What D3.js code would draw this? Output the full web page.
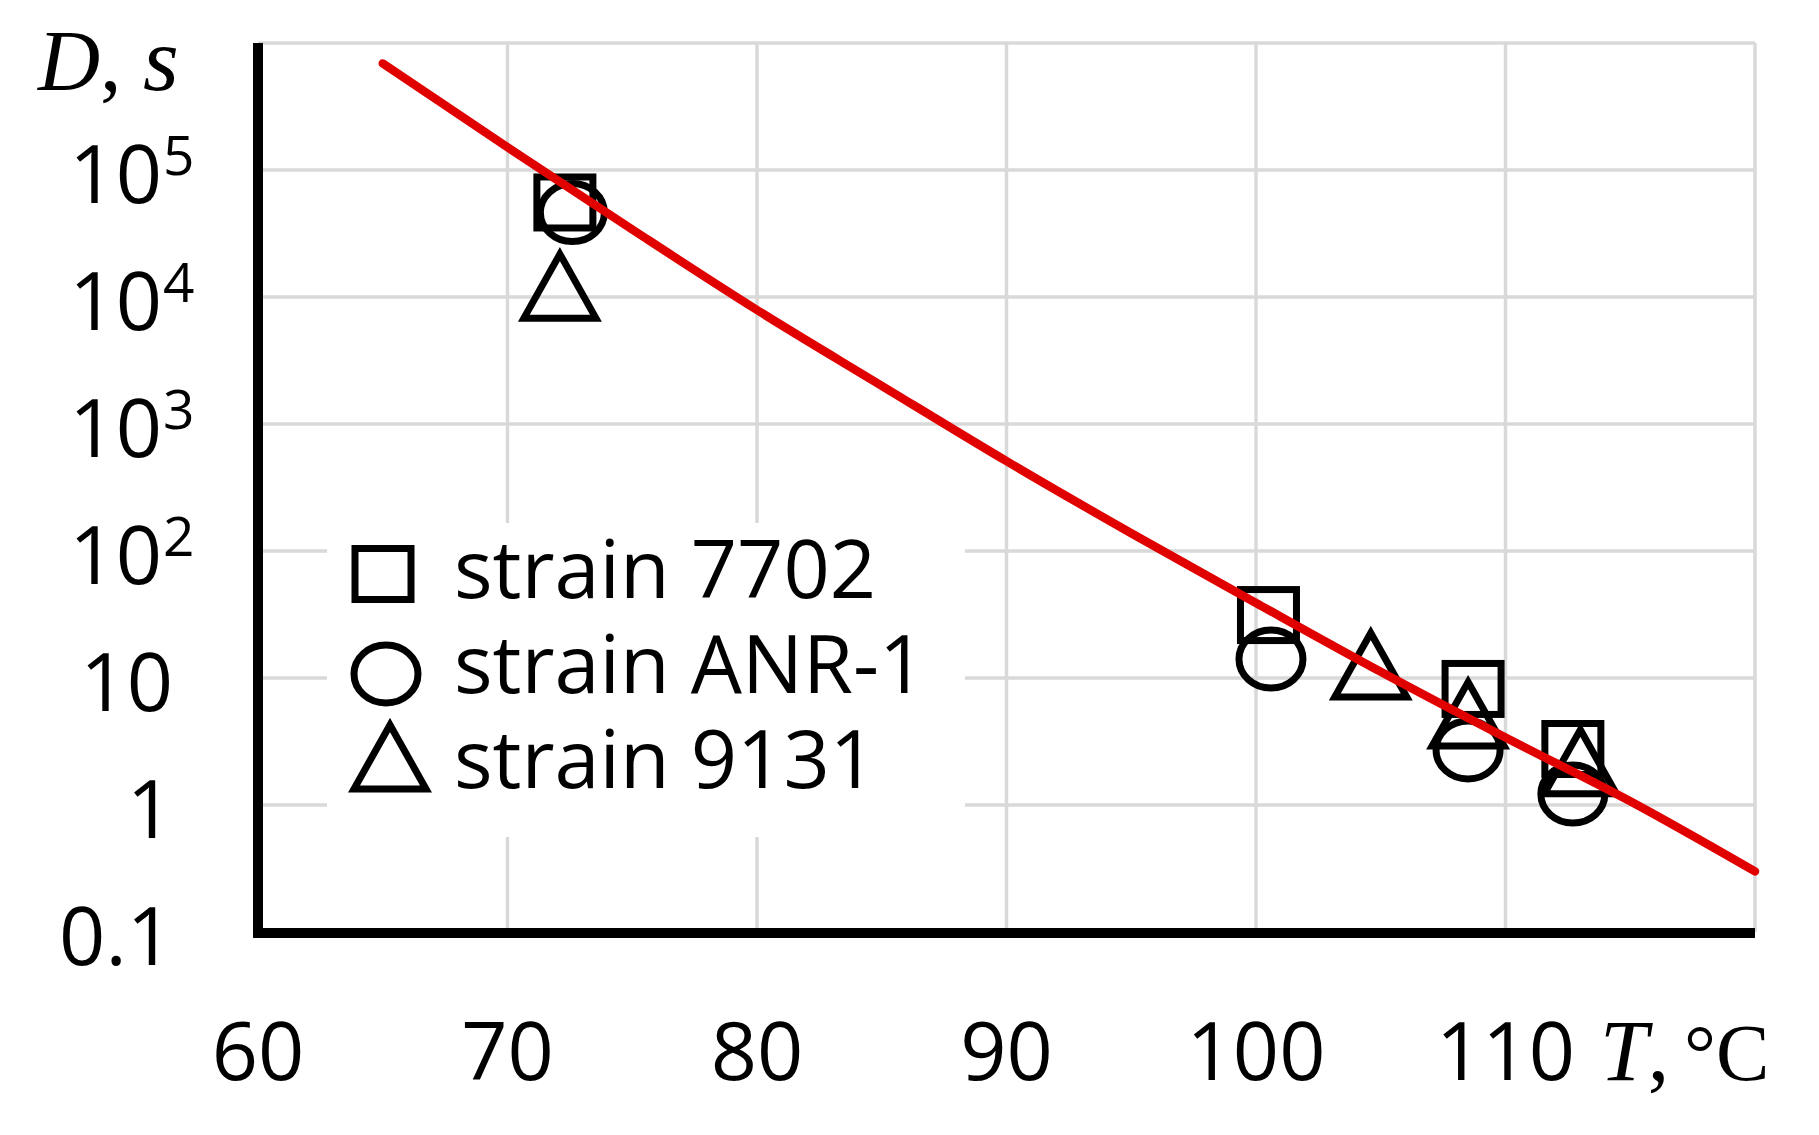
<!DOCTYPE html>
<html>
<head>
<meta charset="utf-8">
<title>D-value vs temperature</title>
<script src="https://cdnjs.cloudflare.com/ajax/libs/d3/7.8.5/d3.min.js"></script>
<style>
  body { margin: 0; background: #fff; }
  .lbl { font-family: "Open Sans", sans-serif; font-size: 81px; fill: #000; }
  .math { font-family: "Liberation Serif", serif; font-size: 86px; fill: #000; }
</style>
</head>
<body>
<div id="chart"></div>
<script>
// model curve
var lineT = [65, 70, 75, 80, 85, 90, 95, 100, 105, 110, 115, 120];
var lineD = [690000, 151000, 34000, 7900, 2000, 510, 138, 39, 11.2, 3.4, 1.07, 0.30];

// measured points per strain
var strainNames = ['strain 7702', 'strain ANR-1', 'strain 9131'];
var s7702T = [72.3, 100.5, 108.7, 112.7];
var s7702D = [55500, 31.3, 8.2, 2.76];
var sAnrT = [72.6, 100.6, 108.5, 112.7];
var sAnrD = [46200, 14.1, 2.71, 1.22];
var s9131T = [72.1, 104.6, 108.5, 113.0];
var s9131D = [12400, 12.9, 5.3, 2.23];

var xGrid = [70, 80, 90, 100, 110, 120];
var xLabels = [60, 70, 80, 90, 100, 110];
var yGrid = [1, 10, 100, 1e3, 1e4, 1e5, 1e6];
var yTicks = [0.1, 1, 10, 100, 1e3, 1e4, 1e5];
var yBase = ['0.1', '1', '10', '10', '10', '10', '10'];
var yExp = ['', '', '', '2', '3', '4', '5'];

var W = 1819, H = 1135;
var x = d3.scaleLinear().domain([60, 120]).range([258, 1755]);
var y = d3.scaleLog().domain([0.1, 1e6]).range([932, 43]);

var svg = d3.select('#chart').append('svg').attr('width', W).attr('height', H);

// grid
svg.append('g').selectAll('line').data(xGrid).enter().append('line')
   .attr('x1', function(d){ return x(d); }).attr('x2', function(d){ return x(d); })
   .attr('y1', y(1e6)).attr('y2', y(0.1))
   .attr('stroke', '#d9d9d9').attr('stroke-width', 3.5);
svg.append('g').selectAll('line').data(yGrid).enter().append('line')
   .attr('y1', function(d){ return y(d); }).attr('y2', function(d){ return y(d); })
   .attr('x1', x(60)).attr('x2', x(120))
   .attr('stroke', '#d9d9d9').attr('stroke-width', 3.5);

// legend background hides the grid
svg.append('rect').attr('x', 327).attr('y', 523).attr('width', 638).attr('height', 314).attr('fill', '#fff');

// axes
svg.append('line').attr('x1', x(60)).attr('x2', x(60)).attr('y1', y(1e6)).attr('y2', y(0.1) + 6)
   .attr('stroke', '#000').attr('stroke-width', 10);
svg.append('line').attr('x1', x(60) - 5).attr('x2', x(120)).attr('y1', y(0.1) + 1).attr('y2', y(0.1) + 1)
   .attr('stroke', '#000').attr('stroke-width', 10);

// tick labels
svg.append('g').selectAll('text').data(xLabels).enter().append('text').attr('class', 'lbl')
   .attr('x', function(d){ return x(d); }).attr('y', 1080).attr('text-anchor', 'middle')
   .text(function(d){ return d; });

yTicks.forEach(function(d, i){
  var base = y(d) + 33;
  if (yExp[i]) {
    svg.append('text').attr('class', 'lbl').attr('x', 162).attr('y', base)
       .attr('text-anchor', 'end').text(yBase[i]);
    svg.append('text').attr('class', 'lbl').attr('x', 163).attr('y', base - 28)
       .style('font-size', '55px').text(yExp[i]);
  } else {
    svg.append('text').attr('class', 'lbl').attr('x', 173).attr('y', base)
       .attr('text-anchor', 'end').text(yBase[i]);
  }
});

// axis titles
var yt = svg.append('text').attr('class', 'math').attr('x', 38).attr('y', 90);
yt.append('tspan').style('font-style', 'italic').text('D');
yt.append('tspan').text(', ');
yt.append('tspan').style('font-style', 'italic').style('font-size', '92px').text('s');

var xt = svg.append('text').attr('class', 'math').attr('x', 1600).attr('y', 1080);
xt.append('tspan').style('font-style', 'italic').text('T');
xt.append('tspan').text(',');
xt.append('tspan').attr('x', 1684).style('font-size', '80px').text('°C');

// markers
function square(g, cx, cy) {
  g.append('rect').attr('x', cx - 28).attr('y', cy - 25.5).attr('width', 56).attr('height', 51)
   .attr('fill', 'none').attr('stroke', '#000').attr('stroke-width', 7);
}
function circle(g, cx, cy) {
  g.append('ellipse').attr('cx', cx).attr('cy', cy).attr('rx', 32).attr('ry', 29)
   .attr('fill', 'none').attr('stroke', '#000').attr('stroke-width', 7);
}
function triangle(g, cx, cy) {
  g.append('path').attr('d', 'M' + cx + ',' + (cy - 31) + 'L' + (cx + 36) + ',' + (cy + 33) +
                     'L' + (cx - 36) + ',' + (cy + 33) + 'Z')
   .attr('fill', 'none').attr('stroke', '#000').attr('stroke-width', 7).attr('stroke-linejoin', 'miter');
}

var pts = svg.append('g');
s7702T.forEach(function(t, i){ square(pts, x(t), y(s7702D[i])); });
sAnrT.forEach(function(t, i){ circle(pts, x(t), y(sAnrD[i])); });
s9131T.forEach(function(t, i){ triangle(pts, x(t), y(s9131D[i])); });

// model line
var line = d3.line().x(function(d){ return x(d[0]); }).y(function(d){ return y(d[1]); })
             .curve(d3.curveMonotoneX);
svg.append('path').datum(lineT.map(function(t, i){ return [t, lineD[i]]; }))
   .attr('d', line).attr('fill', 'none').attr('stroke', '#e00000').attr('stroke-width', 8.5)
   .attr('stroke-linecap', 'round');

// legend
var lg = svg.append('g');
square(lg, 383, 574);
circle(lg, 386, 674);
triangle(lg, 390, 756);
lg.selectAll('text.lbl').data(strainNames).enter().append('text').attr('class', 'lbl')
  .attr('x', 454).attr('y', function(d, i){ return 598 + i * 95; })
  .text(function(d){ return d; });
</script>
</body>
</html>
